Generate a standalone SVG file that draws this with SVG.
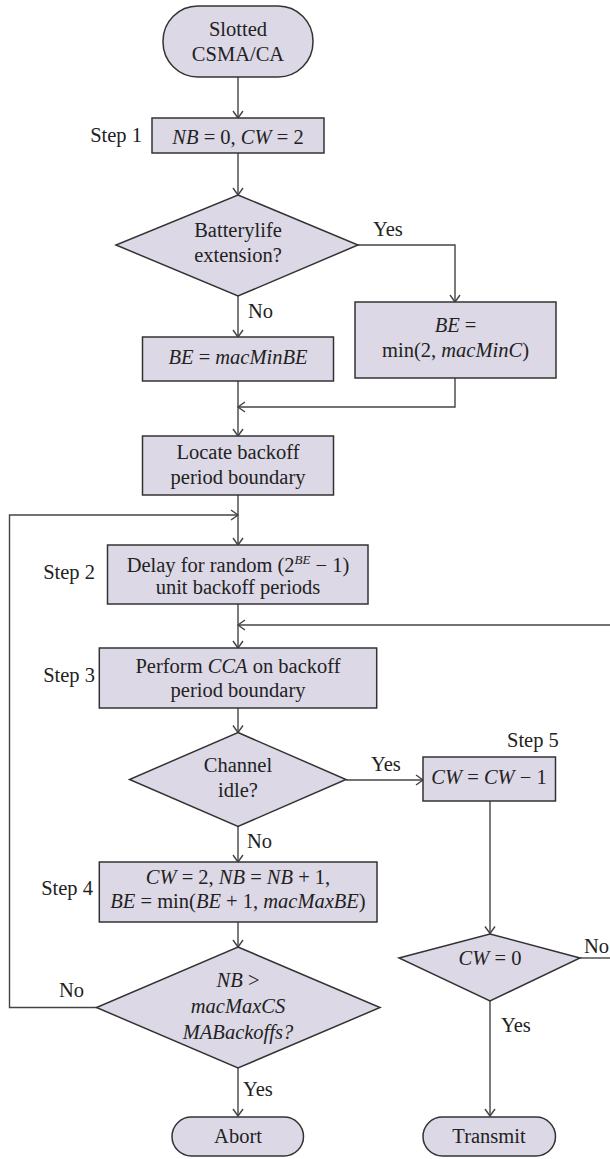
<svg xmlns="http://www.w3.org/2000/svg" width="610" height="1159" viewBox="0 0 610 1159">
<style>
.n{fill:#dcd8e6;stroke:#333;stroke-width:1.5}
.t{font-family:"Liberation Serif","Times New Roman",serif;font-size:20.5px;fill:#222}
.c{text-anchor:middle}
.e{text-anchor:end}
.i{font-style:italic}
.l{fill:none;stroke:#444;stroke-width:1.4;marker-end:url(#a)}
.p{fill:none;stroke:#444;stroke-width:1.4}
</style>
<defs>
<marker id="a" markerUnits="userSpaceOnUse" markerWidth="12" markerHeight="12" viewBox="-8 -6 10 12" refX="0" refY="0" orient="auto">
<path d="M-7,-5 L0,0 L-7,5" fill="none" stroke="#444" stroke-width="1.4"/>
</marker>
</defs>
<rect width="610" height="1159" fill="#fff"/>
<g id="connectors" font-family="Liberation Serif, serif">
<path class="l" d="M238,77 V118"/>
<path class="l" d="M238,153 V195"/>
<path class="l" d="M358,245 H455 V302"/>
<path class="l" d="M238,296 V337"/>
<path class="l" d="M455,378 V407 H238"/>
<path class="l" d="M238,381 V436"/>
<path class="l" d="M238,495 V545"/>
<path class="l" d="M97,1007.5 H9.5 V515 H238"/>
<path class="l" d="M238,604 V648"/>
<path class="l" d="M612,625 H238"/>
<path class="l" d="M238,708 V732.5"/>
<path class="l" d="M346,780 H423"/>
<path class="l" d="M238,826.5 V862"/>
<path class="l" d="M238,922 V947"/>
<path class="l" d="M490,801 V933.5"/>
<path class="p" d="M580,958 H612"/>
<path class="l" d="M490,1001 V1116"/>
<path class="l" d="M238,1068 V1116"/>
<text class="t" x="373" y="236">Yes</text>
<text class="t" x="248" y="318">No</text>
<text class="t" x="371" y="771">Yes</text>
<text class="t" x="247" y="848">No</text>
<text class="t" x="59" y="997">No</text>
<text class="t" x="243" y="1096">Yes</text>
<text class="t e" x="609" y="953">No</text>
<text class="t" x="501" y="1032">Yes</text>
</g>
<g id="start">
<rect class="n" x="163" y="6" width="150" height="71" rx="35" ry="35"/>
<text class="t c" x="238" y="36">Slotted</text>
<text class="t c" x="238" y="61">CSMA/CA</text>
</g>
<g id="step1">
<text class="t e" x="142" y="142">Step 1</text>
<rect class="n" x="152" y="118" width="172" height="35"/>
<text class="t c" x="238" y="144"><tspan class="i">NB</tspan> = 0, <tspan class="i">CW</tspan> = 2</text>
</g>
<g id="battery">
<polygon class="n" points="238,195 358,245 238,296 116,245"/>
<text class="t c" x="238" y="237">Batterylife</text>
<text class="t c" x="238" y="262">extension?</text>
</g>
<g id="be-min">
<rect class="n" x="142.5" y="337" width="191" height="44"/>
<text class="t c" x="238" y="364"><tspan class="i">BE</tspan> = <tspan class="i">macMinBE</tspan></text>
</g>
<g id="be-min2">
<rect class="n" x="355" y="302" width="201" height="76"/>
<text class="t c" x="455.5" y="332"><tspan class="i">BE</tspan> =</text>
<text class="t c" x="455.5" y="357">min(2, <tspan class="i">macMinC</tspan>)</text>
</g>
<g id="locate">
<rect class="n" x="142.5" y="436" width="191" height="59"/>
<text class="t c" x="238" y="459">Locate backoff</text>
<text class="t c" x="238" y="484">period boundary</text>
</g>
<g id="step2">
<text class="t e" x="95" y="579">Step 2</text>
<rect class="n" x="107.5" y="545" width="260.5" height="59"/>
<text class="t c" x="238" y="572">Delay for random (2<tspan class="i" font-size="13" dy="-8">BE</tspan><tspan dy="8"> − 1)</tspan></text>
<text class="t c" x="238" y="594">unit backoff periods</text>
</g>
<g id="step3">
<text class="t e" x="95" y="682">Step 3</text>
<rect class="n" x="99.3" y="648" width="277.4" height="60"/>
<text class="t c" x="238" y="673">Perform <tspan class="i">CCA</tspan> on backoff</text>
<text class="t c" x="238" y="697">period boundary</text>
</g>
<g id="channel">
<polygon class="n" points="238,732.5 346,779.5 238,826.5 129.5,779.5"/>
<text class="t c" x="238" y="772">Channel</text>
<text class="t c" x="238" y="797">idle?</text>
</g>
<g id="step5">
<text class="t" x="507" y="747">Step 5</text>
<rect class="n" x="423" y="757" width="132.5" height="44"/>
<text class="t c" x="489" y="784"><tspan class="i">CW</tspan> = <tspan class="i">CW</tspan> − 1</text>
</g>
<g id="step4">
<text class="t e" x="93" y="895">Step 4</text>
<rect class="n" x="99.3" y="862" width="277.7" height="60"/>
<text class="t c" x="238" y="884"><tspan class="i">CW</tspan> = 2, <tspan class="i">NB</tspan> = <tspan class="i">NB</tspan> + 1,</text>
<text class="t c" x="238" y="908"><tspan class="i">BE</tspan> = min(<tspan class="i">BE</tspan> + 1, <tspan class="i">macMaxBE</tspan>)</text>
</g>
<g id="nb-check">
<polygon class="n" points="238,947 380,1007.5 238,1068 96.5,1007.5"/>
<text class="t c" x="238" y="987"><tspan class="i">NB</tspan> &gt;</text>
<text class="t c i" x="238" y="1013">macMaxCS</text>
<text class="t c i" x="238" y="1039">MABackoffs?</text>
</g>
<g id="cw-check">
<polygon class="n" points="490,934 580,958 490,1001 399,958"/>
<text class="t c" x="490" y="965"><tspan class="i">CW</tspan> = 0</text>
</g>
<g id="abort">
<rect class="n" x="172" y="1117" width="131.5" height="39" rx="19.5" ry="19.5"/>
<text class="t c" x="238" y="1143">Abort</text>
</g>
<g id="transmit">
<rect class="n" x="423" y="1117" width="132.5" height="39" rx="19.5" ry="19.5"/>
<text class="t c" x="489" y="1143">Transmit</text>
</g>
</svg>
